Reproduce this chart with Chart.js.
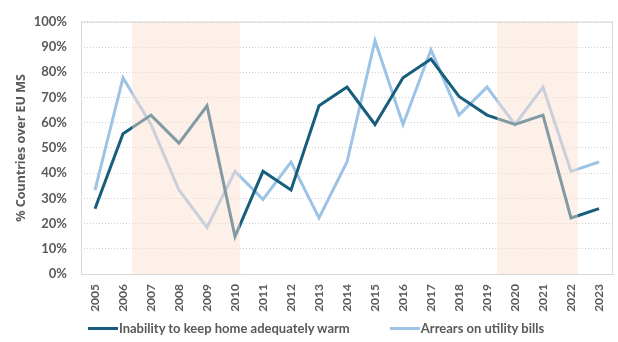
<!DOCTYPE html>
<html>
<head>
<meta charset="utf-8">
<script src="https://cdn.jsdelivr.net/npm/chart.js@4.4.1/dist/chart.umd.min.js"></script>
<style>
  html, body { margin: 0; padding: 0; background: #fff; }
  #wrap { position: relative; width: 618px; height: 342px; }
  #legend {
    position: absolute; left: 14px; right: 0; top: 320px;
    display: flex; justify-content: center; align-items: center;
    font: bold 13px Lato, sans-serif; color: #595959;
  }
  .item { display: flex; align-items: center; margin: 0 20px; }
  .swatch { width: 30px; height: 3px; margin-right: 1px; }
</style>
</head>
<body>
<div id="wrap">
  <canvas id="chart"></canvas>
  <div id="legend"></div>
</div>
<script>
const years = ['2005','2006','2007','2008','2009','2010','2011','2012','2013','2014',
               '2015','2016','2017','2018','2019','2020','2021','2022','2023'];
// share of EU member states (out of 27), in %
const inabilityWarm = [25.9, 55.6, 63.0, 51.9, 66.7, 14.8, 40.7, 33.3, 66.7, 74.1,
                       59.3, 77.8, 85.2, 70.4, 63.0, 59.3, 63.0, 22.2, 25.9];
const arrearsBills = [33.3, 77.8, 59.3, 33.3, 18.5, 40.7, 29.6, 44.4, 22.2, 44.4,
                      92.6, 59.3, 88.9, 63.0, 74.1, 59.3, 74.1, 40.7, 44.4];
const yTicks = [0, 10, 20, 30, 40, 50, 60, 70, 80, 90, 100];
// shaded periods, in category-index units
const shadedPeriods = [[1.33, 5.18], [14.36, 17.25]];

const darkBlue = '#175e7d';
const lightBlue = '#9dc3e6';
const textGrey = '#595959';

const shadePlugin = {
    id: 'shade',
    afterDatasetsDraw(chart) {
        const {ctx, chartArea, scales: {x}} = chart;
        ctx.save();
        ctx.fillStyle = 'rgba(251, 224, 206, 0.47)';
        shadedPeriods.forEach(p => {
            const x0 = x.getPixelForValue(p[0]);
            const x1 = x.getPixelForValue(p[1]);
            ctx.fillRect(x0, chartArea.top, x1 - x0, chartArea.bottom - chartArea.top + 1);
        });
        ctx.strokeStyle = '#d9d9d9';
        ctx.lineWidth = 1;
        ctx.strokeRect(chartArea.left + 0.5, chartArea.top + 0.5,
                       chartArea.right - chartArea.left - 1, chartArea.bottom - chartArea.top);
        ctx.restore();
    }
};

const chart = new Chart(document.getElementById('chart'), {
    type: 'line',
    data: {
        labels: years,
        datasets: [{
            label: 'Inability to keep home adequately warm',
            data: inabilityWarm,
            borderColor: darkBlue,
            backgroundColor: darkBlue,
            borderWidth: 3,
            pointRadius: 0,
            tension: 0
        }, {
            label: 'Arrears on utility bills',
            data: arrearsBills,
            borderColor: lightBlue,
            backgroundColor: lightBlue,
            borderWidth: 3,
            pointRadius: 0,
            tension: 0
        }]
    },
    options: {
        responsive: true,
        maintainAspectRatio: false,
        animation: false,
        layout: { padding: { top: 12, right: 5, left: 0, bottom: 26 } },
        plugins: {
            tooltip: { enabled: false },
            legend: { display: false }
        },
        scales: {
            x: {
                offset: true,
                grid: { display: false, drawTicks: false },
                border: { color: '#d9d9d9' },
                ticks: {
                    color: textGrey,
                    minRotation: 90,
                    maxRotation: 90,
                    padding: 10,
                    font: { family: 'Lato', size: 12, weight: 'bold' }
                },
                afterFit(scale) {
                    scale.height = 42;
                    scale.paddingLeft = 0;
                    scale.paddingRight = 0;
                }
            },
            y: {
                min: 0,
                max: 100,
                afterBuildTicks(scale) { scale.ticks = yTicks.map(v => ({value: v})); },
                grid: {
                    color: '#d0d0d0',
                    drawTicks: false
                },
                border: { display: false, dash: [1, 2] },
                ticks: {
                    color: textGrey,
                    padding: 14,
                    callback: v => v + '%',
                    font: { family: 'Lato', size: 13, weight: 'bold' }
                },
                title: {
                    display: true,
                    text: '% Countries over EU MS',
                    color: textGrey,
                    padding: { top: 14, bottom: 0 },
                    font: { family: 'Noto Sans', size: 12.5, weight: 'bold' }
                },
                afterFit(scale) { scale.width = 81; }
            }
        }
    },
    plugins: [shadePlugin]
});

// legend as html, built from the datasets
const legendEl = document.getElementById('legend');
chart.data.datasets.forEach(ds => {
    const item = document.createElement('div');
    item.className = 'item';
    item.innerHTML = `<span class="swatch" style="background:${ds.borderColor}"></span><span>${ds.label}</span>`;
    legendEl.appendChild(item);
});
</script>
</body>
</html>
